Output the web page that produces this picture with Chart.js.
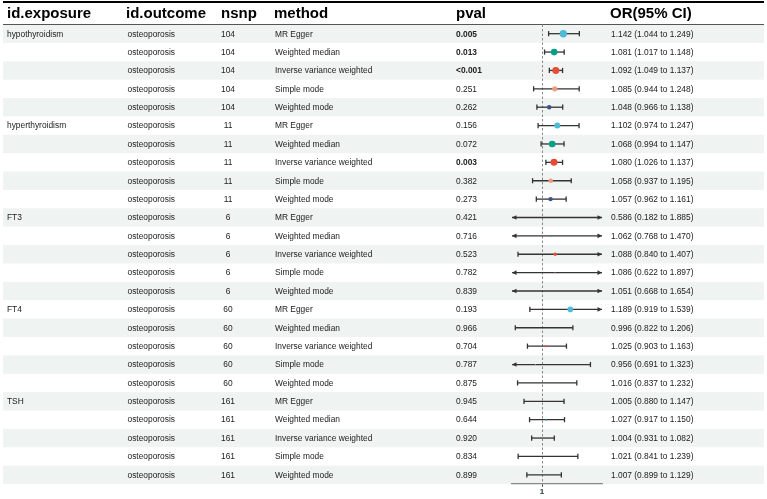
<!DOCTYPE html>
<html>
<head>
<meta charset="utf-8">
<script src="https://cdn.jsdelivr.net/npm/chart.js@4.4.1/dist/chart.umd.min.js"></script>
<style>
  html, body { margin: 0; padding: 0; background: #fff; }
</style>
</head>
<body>
<canvas id="forest" width="767" height="499"></canvas>
<script>
/* Forest plot of MR estimates: thyroid traits -> osteoporosis. */
var exposures = ["hypothyroidism", "hyperthyroidism", "FT3", "FT4", "TSH"];
var outcome = "osteoporosis";
var nsnp = [104, 11, 6, 60, 161];
var methods = ["MR Egger", "Weighted median", "Inverse variance weighted", "Simple mode", "Weighted mode"];

var pval = [
  "0.005", "0.013", "<0.001", "0.251", "0.262",
  "0.156", "0.072", "0.003", "0.382", "0.273",
  "0.421", "0.716", "0.523", "0.782", "0.839",
  "0.193", "0.966", "0.704", "0.787", "0.875",
  "0.945", "0.644", "0.920", "0.834", "0.899"
];
var or = [
  1.142, 1.081, 1.092, 1.085, 1.048,
  1.102, 1.068, 1.080, 1.058, 1.057,
  0.586, 1.062, 1.088, 1.086, 1.051,
  1.189, 0.996, 1.025, 0.956, 1.016,
  1.005, 1.027, 1.004, 1.021, 1.007
];
var lower = [
  1.044, 1.017, 1.049, 0.944, 0.966,
  0.974, 0.994, 1.026, 0.937, 0.962,
  0.182, 0.768, 0.840, 0.622, 0.668,
  0.919, 0.822, 0.903, 0.691, 0.837,
  0.880, 0.917, 0.931, 0.841, 0.899
];
var upper = [
  1.249, 1.148, 1.137, 1.248, 1.138,
  1.247, 1.147, 1.137, 1.195, 1.161,
  1.885, 1.470, 1.407, 1.897, 1.654,
  1.539, 1.206, 1.163, 1.323, 1.232,
  1.147, 1.150, 1.082, 1.239, 1.129
];
/* relative box weight */
var weight = [
  0.88, 0.79, 0.83, 0.62, 0.55,
  0.72, 0.79, 0.83, 0.55, 0.52,
  0.00, 0.17, 0.40, 0.12, 0.00,
  0.67, 0.00, 0.24, 0.12, 0.00,
  0.00, 0.19, 0.00, 0.07, 0.00
];
var xTicks = [1];

var COL = { "MR Egger": "#4DBBD5", "Weighted median": "#00A087",
            "Inverse variance weighted": "#E64B35", "Simple mode": "#F39B7F",
            "Weighted mode": "#3C5488" };
var XMIN = 0.8, XMAX = 1.4;
var N = or.length;
var FONT = '"Liberation Sans", Arial, sans-serif';

function methodOf(i) { return methods[i % methods.length]; }
function groupOf(i) { return Math.floor(i / methods.length); }

var tablePlugin = {
  id: "table",
  beforeDraw: function (chart) {
    var ctx = chart.ctx, ys = chart.scales.y, W = chart.width;
    ctx.save();
    // zebra rows
    ctx.fillStyle = "#eff3f2";
    for (var i = 0; i < N; i += 2) {
      var t = ys.getPixelForValue(i - 0.5), b = ys.getPixelForValue(i + 0.5);
      ctx.fillRect(3, t, W - 6, b - t);
    }
    // header rules
    ctx.fillStyle = "#000";
    ctx.fillRect(3, 1, W - 6, 2);
    ctx.fillStyle = "#555";
    var hb = ys.getPixelForValue(-0.5);
    ctx.fillRect(3, hb - 0.5, W - 6, 1);

    // header text
    ctx.fillStyle = "#000";
    ctx.font = "bold 15px " + FONT;
    ctx.textBaseline = "middle";
    ctx.textAlign = "left";
    ctx.fillText("id.exposure", 7, 14);
    ctx.fillText("id.outcome", 126, 14);
    ctx.fillText("nsnp", 221, 14);
    ctx.fillText("method", 274, 14);
    ctx.fillText("pval", 456, 14);
    ctx.fillText("OR(95% CI)", 610, 14);

    // body
    for (var r = 0; r < N; r++) {
      var y = ys.getPixelForValue(r) + 0.5;
      ctx.fillStyle = "#222";
      ctx.font = "8.4px " + FONT;
      ctx.textAlign = "left";
      if (r % methods.length === 0) ctx.fillText(exposures[groupOf(r)], 7, y);
      ctx.fillText(outcome, 127.5, y);
      ctx.textAlign = "center";
      ctx.fillText(String(nsnp[groupOf(r)]), 228, y);
      ctx.textAlign = "left";
      ctx.fillText(methodOf(r), 275, y);
      var p = pval[r];
      var sig = p.charAt(0) === "<" || parseFloat(p) < 0.05;
      ctx.font = (sig ? "bold " : "") + "8.4px " + FONT;
      ctx.fillText(p, 456, y);
      ctx.font = "8.4px " + FONT;
      ctx.fillText(or[r].toFixed(3) + " (" + lower[r].toFixed(3) + " to " + upper[r].toFixed(3) + ")", 611, y);
    }
    ctx.restore();
  }
};

var ciPlugin = {
  id: "ci",
  beforeDatasetsDraw: function (chart) {
    var ctx = chart.ctx, xs = chart.scales.x, ys = chart.scales.y;
    ctx.save();
    ctx.strokeStyle = "#333";
    ctx.fillStyle = "#333";
    ctx.lineWidth = 1.3;
    for (var i = 0; i < N; i++) {
      var y = ys.getPixelForValue(i);
      var lo = Math.max(lower[i], XMIN), hi = Math.min(upper[i], XMAX);
      var x1 = xs.getPixelForValue(lo), x2 = xs.getPixelForValue(hi);
      ctx.beginPath();
      ctx.moveTo(x1, y); ctx.lineTo(x2, y);
      ctx.stroke();
      end(ctx, x1, y, lower[i] < XMIN, -1);
      end(ctx, x2, y, upper[i] > XMAX, 1);
    }
    ctx.restore();
  }
};
function end(ctx, x, y, arrow, dir) {
  if (arrow) {
    ctx.beginPath();
    ctx.moveTo(x, y);
    ctx.lineTo(x - dir * 4.5, y - 2.3);
    ctx.lineTo(x - dir * 4.5, y + 2.3);
    ctx.closePath();
    ctx.fill();
  } else {
    ctx.beginPath();
    ctx.moveTo(x, y - 2.6); ctx.lineTo(x, y + 2.6);
    ctx.stroke();
  }
}

var pts = or.map(function (v, i) { return { x: v, y: i }; });

new Chart(document.getElementById("forest"), {
  type: "scatter",
  data: {
    datasets: [{
      data: pts,
      pointRadius: weight.map(function (w) { return w * 4.2; }),
      pointHoverRadius: weight.map(function (w) { return w * 4.2; }),
      pointBackgroundColor: or.map(function (v, i) { return COL[methodOf(i)]; }),
      pointBorderWidth: 0,
      clip: 0
    }]
  },
  options: {
    responsive: false,
    devicePixelRatio: 1,
    animation: false,
    layout: { padding: { left: 512, right: 165, top: 24.5, bottom: 0 } },
    plugins: { legend: { display: false }, tooltip: { enabled: false } },
    scales: {
      y: { type: "linear", min: -0.5, max: N - 0.5, reverse: true, display: false },
      x: {
        type: "linear", min: XMIN, max: XMAX,
        afterBuildTicks: function (s) { s.ticks = xTicks.map(function (v) { return { value: v }; }); },
        afterFit: function (s) { s.height = 15; },
        grid: { color: "#8a8a8a", lineWidth: 1, drawOnChartArea: true, tickLength: 3,
                tickColor: "#555", tickBorderDash: [] },
        border: { display: true, color: "#888", width: 1.2, dash: [2.5, 2] },
        ticks: { color: "#1f3a2a", font: { family: FONT, size: 8, weight: "bold" }, padding: 0 }
      }
    }
  },
  plugins: [tablePlugin, ciPlugin]
});
</script>
</body>
</html>
